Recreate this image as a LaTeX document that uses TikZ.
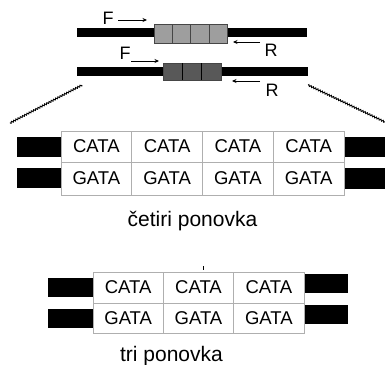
\documentclass[tikz,border=0pt]{standalone}
\usepackage{fontspec}
\setmainfont{Liberation Sans}
\usetikzlibrary{decorations.pathmorphing,arrows.meta}
\definecolor{cellgray}{RGB}{175,175,175}
\definecolor{lightbox}{RGB}{158,158,158}
\definecolor{darkbox}{RGB}{88,88,88}
\definecolor{boxedge}{RGB}{70,70,70}
\begin{document}
\begin{tikzpicture}[x=1pt,y=-1pt,
  cell/.style={draw=cellgray,line width=0.7pt,minimum width=70.75pt,inner sep=0pt,outer sep=0pt,font=\fontsize{18.5}{20}\selectfont},
  cellb/.style={cell,minimum width=70.33pt},
  lbl/.style={font=\fontsize{21}{24}\selectfont,inner sep=0pt,anchor=base},
  pl/.style={font=\fontsize{18}{20}\selectfont,inner sep=0pt},
  arr/.style={-{Stealth[length=4.5pt,width=4pt]},line width=0.8pt},
  zz/.style={decorate,decoration={zigzag,segment length=2.5pt,amplitude=0.8pt},line width=0.9pt},
  rep/.style={draw=boxedge,line width=0.6pt,inner sep=0pt,outer sep=0pt,anchor=north west}]
\useasboundingbox (0,0) rectangle (385,364);
% top strand
\fill (77,28) rectangle (307,37);
\node[rep,fill=lightbox,minimum width=73pt,minimum height=19pt] (g) at (154,24) {};
\foreach \d in {18.25,36.5,54.75}{\draw[boxedge,line width=0.5pt] ([xshift=\d pt]g.north west) -- ([xshift=\d pt]g.south west);}
% second strand
\fill (77,67) rectangle (308,76);
\node[rep,fill=darkbox,minimum width=58pt,minimum height=17pt] (d) at (163,63) {};
\foreach \d in {19.33,38.67}{\draw[black,line width=0.5pt] ([xshift=\d pt]d.north west) -- ([xshift=\d pt]d.south west);}
% primers
\node[pl] (F1) at (108,18.5) {F};
\coordinate (f1s) at (118,20); \coordinate (f1e) at (147,20);
\draw[arr] (f1s) -- (f1e);
\node[pl] (R1) at (271,50.5) {R};
\coordinate (r1s) at (260,42); \coordinate (r1e) at (233,42);
\draw[arr] (r1s) -- (r1e);
\node[pl] (F2) at (125,53) {F};
\coordinate (f2s) at (131,61); \coordinate (f2e) at (159,61);
\draw[arr] (f2s) -- (f2e);
\node[pl] (R2) at (272,90) {R};
\coordinate (r2s) at (260,81); \coordinate (r2e) at (232,81);
\draw[arr] (r2s) -- (r2e);
% zoom lines
\coordinate (zl1) at (82,85); \coordinate (zl2) at (10,123);
\coordinate (zr1) at (308,85); \coordinate (zr2) at (385,122);
\draw[zz] (zl1) -- (zl2);
\draw[zz] (zr1) -- (zr2);
% four repeats
\fill (17,137) rectangle (61,157);
\fill (17,168) rectangle (61,188);
\fill (344,137) rectangle (385,157);
\fill (344,168) rectangle (385,189);
\foreach \i/\x in {1/96.375,2/167.125,3/237.875,4/308.625}{
  \node[cell,minimum height=31pt] (c\i) at (\x,146.5) {CATA};
  \node[cell,minimum height=33pt] (g\i) at (\x,178.5) {GATA};
}
\node[lbl] (L1) at (192.5,226) {četiri ponovka};
% three repeats
\fill (48,278) rectangle (93,297);
\fill (48,309) rectangle (93,328);
\fill (304,274) rectangle (348,293);
\fill (304,305) rectangle (348,324);
\foreach \i/\x in {1/128.17,2/198.5,3/268.83}{
  \node[cellb,minimum height=31pt] (t\i) at (\x,287.5) {CATA};
  \node[cellb,minimum height=30pt] (u\i) at (\x,318) {GATA};
}
\draw[line width=0.6pt] (203,266) -- (203,270);
\node[lbl] (L2) at (171.5,361) {tri ponovka};
\end{tikzpicture}
\end{document}
